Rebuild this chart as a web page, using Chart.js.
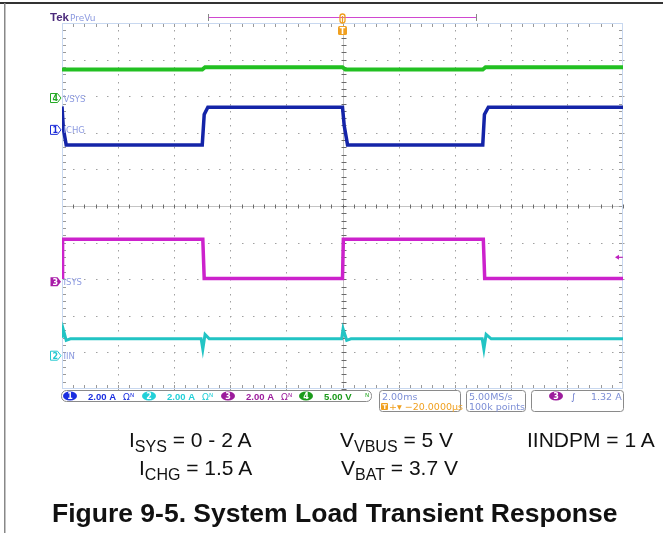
<!DOCTYPE html>
<html><head><meta charset="utf-8">
<script src="https://cdn.jsdelivr.net/npm/chart.js@4"></script>
<style>
body{margin:0;background:#fff}
#wrap{position:relative;width:663px;height:533px;overflow:hidden}
canvas{position:absolute;left:0;top:0}
.cap{position:absolute;font:21px "Liberation Sans",Arial,sans-serif;line-height:21px;color:#111;white-space:nowrap}
.cap span{font-size:16px;position:relative;top:5px}
#title{position:absolute;left:52px;top:500px;font:bold 26.5px "Liberation Sans",Arial,sans-serif;line-height:27px;color:#111;white-space:nowrap}
</style></head><body>
<div id="wrap">
  <canvas id="c" width="663" height="533"></canvas>
  <div class="cap" style="left:129px;top:429px">I<span>SYS</span> = 0 - 2 A</div>
  <div class="cap" style="left:340px;top:429px">V<span>VBUS</span> = 5 V</div>
  <div class="cap" style="left:527px;top:429px">IINDPM = 1 A</div>
  <div class="cap" style="left:139px;top:457px">I<span>CHG</span> = 1.5 A</div>
  <div class="cap" style="left:341px;top:457px">V<span>BAT</span> = 3.7 V</div>
  <div id="title">Figure 9-5. System Load Transient Response</div>
</div>
<script>
// Scope capture: time in ms (2.00 ms/div), values in screen divisions (0 = centre line)
const vsysT = [-10, -5.0, -4.9, 0, 0.1, 5.0, 5.1, 10];
const vsysV = [3.73, 3.73, 3.79, 3.79, 3.73, 3.73, 3.79, 3.79];
const ichgT = [-10, -9.95, -9.85, -5.0, -4.93, -4.8, 0, 0.06, 0.18, 5.0, 5.06, 5.2, 10];
const ichgV = [2.72, 2.1, 1.67, 1.67, 2.5, 2.70, 2.70, 2.2, 1.67, 1.67, 2.5, 2.70, 2.70];
const isysT = [-10, -9.98, -4.98, -4.93, 0, 0.03, 5.02, 5.07, 10];
const isysV = [-1.95, -0.91, -0.91, -1.98, -1.98, -0.91, -0.91, -1.98, -1.98];
const iinT = [-10, -9.96, -9.85, -9.7, -5.04, -4.98, -4.9, -4.75, -0.03, 0.02, 0.15, 0.3, 4.98, 5.04, 5.12, 5.3, 10];
const iinV = [-3.6, -3.36, -3.67, -3.63, -3.63, -3.91, -3.51, -3.63, -3.63, -3.36, -3.67, -3.63, -3.63, -3.91, -3.51, -3.63, -3.63];

// channel ground markers (divisions) and labels
const chanNames = ['VSYS', 'ICHG', 'ISYS', 'IIN'];
const chanNums = ['4', '1', '3', '2'];
const chanOffsets = [2.95, 2.08, -2.07, -4.09];
const chanColors = ['#22a822', '#1a2ad8', '#a81ca8', '#22c8d0'];
const chanFilled = [false, false, true, false];

// bottom readout
const scaleNums = ['1', '2', '3', '4'];
const scaleText = ['2.00 A', '2.00 A', '2.00 A', '5.00 V'];
const scaleColors = ['#1a2ee0', '#22d0d8', '#9c1c9c', '#1a9a1a'];
const trigLevel = 1.32; // A, ch3 -> shown at marker
const trigLevelDiv = -1.4;

function pts(t, v){ return t.map((x, i) => ({x, y: v[i]})) }

const ST = '#7d8fd6';
function rrect(ctx, x, y, w, h, r){
  ctx.beginPath();
  ctx.moveTo(x+r, y); ctx.lineTo(x+w-r, y); ctx.arcTo(x+w, y, x+w, y+r, r);
  ctx.lineTo(x+w, y+h-r); ctx.arcTo(x+w, y+h, x+w-r, y+h, r);
  ctx.lineTo(x+r, y+h); ctx.arcTo(x, y+h, x, y+h-r, r);
  ctx.lineTo(x, y+r); ctx.arcTo(x, y, x+r, y, r); ctx.closePath();
}
function pill(ctx, cx, cy, txt, col){
  ctx.fillStyle = col;
  ctx.beginPath(); ctx.ellipse(cx, cy, 7, 4.6, 0, 0, Math.PI*2); ctx.fill();
  ctx.fillStyle = '#fff'; ctx.font = 'bold 8px "DejaVu Sans"'; ctx.textAlign = 'center';
  ctx.fillText(txt, cx, cy+3); ctx.textAlign = 'left';
}

const graticule = {
  id: 'graticule',
  beforeDatasetsDraw(chart){
    const {ctx, chartArea: a, scales: {x, y}} = chart;
    ctx.save();
    // page frame
    ctx.fillStyle = '#333'; ctx.fillRect(0, 2, 663, 2);
    ctx.fillStyle = '#888'; ctx.fillRect(4, 3, 1.5, 530);
    // dotted graticule
    ctx.fillStyle = '#a0a0a0';
    for(let i = -8; i <= 8; i += 2){
      if(i === 0) continue;
      const px = Math.round(x.getPixelForValue(i));
      for(let k = 0; k <= 50; k++){ ctx.fillRect(px, Math.round(y.getPixelForValue(-5 + k*0.2)), 1, 1.5); }
    }
    for(let j = -4; j <= 4; j++){
      if(j === 0) continue;
      const py = Math.round(y.getPixelForValue(j));
      for(let k = 0; k <= 50; k++){ ctx.fillRect(Math.round(x.getPixelForValue(-10 + k*0.4)), py, 1.5, 1); }
    }
    // centre cross
    const cx = Math.round(x.getPixelForValue(0)) + 0.5, cy = Math.round(y.getPixelForValue(0)) + 0.5;
    ctx.strokeStyle = '#c4c4c4'; ctx.lineWidth = 1;
    ctx.beginPath(); ctx.moveTo(a.left, cy); ctx.lineTo(a.right, cy); ctx.moveTo(cx, a.top); ctx.lineTo(cx, a.bottom); ctx.stroke();
    ctx.strokeStyle = '#6a6a6a';
    ctx.beginPath();
    for(let k = 0; k <= 50; k++){
      const px = Math.round(x.getPixelForValue(-10 + k*0.4)) + 0.5;
      ctx.moveTo(px, cy-2); ctx.lineTo(px, cy+2);
      const py = Math.round(y.getPixelForValue(-5 + k*0.2)) + 0.5;
      ctx.moveTo(cx-2, py); ctx.lineTo(cx+3, py);
    }
    ctx.stroke();
    // edges with inward ticks
    ctx.strokeStyle = '#c8d8f0';
    ctx.strokeRect(a.left+0.5, a.top+0.5, a.right-a.left-1, a.bottom-a.top-1);
    ctx.strokeStyle = '#9a9a9a';
    ctx.beginPath();
    for(let k = 1; k < 50; k++){
      const px = Math.round(x.getPixelForValue(-10 + k*0.4)) + 0.5;
      ctx.moveTo(px, a.top+1); ctx.lineTo(px, a.top+4);
      ctx.moveTo(px, a.bottom-1); ctx.lineTo(px, a.bottom-4);
      const py = Math.round(y.getPixelForValue(-5 + k*0.2)) + 0.5;
      ctx.moveTo(a.left+1, py); ctx.lineTo(a.left+4, py);
      ctx.moveTo(a.right-1, py); ctx.lineTo(a.right-4, py);
    }
    ctx.stroke();
    ctx.restore();
  }
};

const overlay = {
  id: 'overlay',
  afterDatasetsDraw(chart){
    const {ctx, chartArea: a, scales: {x, y}} = chart;
    ctx.save();
    // header
    ctx.font = 'bold 11.5px "Liberation Sans"'; ctx.fillStyle = '#4b2a7b';
    ctx.fillText('Tek', 50, 21);
    ctx.font = '9px "DejaVu Sans"'; ctx.fillStyle = '#8c9ae0';
    ctx.fillText('PreVu', 70, 21);
    // record window bar
    ctx.strokeStyle = '#d048d0'; ctx.lineWidth = 1;
    ctx.beginPath(); ctx.moveTo(208, 17.5); ctx.lineTo(476, 17.5); ctx.stroke();
    ctx.strokeStyle = '#888';
    ctx.beginPath(); ctx.moveTo(208.5, 14); ctx.lineTo(208.5, 21); ctx.moveTo(476.5, 14); ctx.lineTo(476.5, 21); ctx.stroke();
    // trigger position marker
    const tx = x.getPixelForValue(0);
    ctx.strokeStyle = '#f0a020'; ctx.lineWidth = 1.3;
    rrect(ctx, tx-2.5, 14, 5, 9, 2.5); ctx.stroke();
    ctx.beginPath(); ctx.moveTo(tx, 16); ctx.lineTo(tx, 23); ctx.stroke();
    ctx.fillStyle = '#f0a020'; rrect(ctx, tx-4.5, 26, 9, 9, 1.5); ctx.fill();
    ctx.fillStyle = '#fff'; ctx.font = 'bold 8px "DejaVu Sans"'; ctx.textAlign = 'center';
    ctx.fillText('T', tx, 34); ctx.textAlign = 'left';
    // trigger level arrow
    const ly = y.getPixelForValue(trigLevelDiv);
    ctx.strokeStyle = '#c020c0'; ctx.fillStyle = '#c020c0'; ctx.lineWidth = 1;
    ctx.beginPath(); ctx.moveTo(618, ly); ctx.lineTo(623, ly); ctx.stroke();
    ctx.beginPath(); ctx.moveTo(615, ly); ctx.lineTo(619, ly-2.5); ctx.lineTo(619, ly+2.5); ctx.closePath(); ctx.fill();
    // channel ground markers
    chanNames.forEach((n, i) => {
      const cy = y.getPixelForValue(chanOffsets[i]);
      ctx.beginPath();
      ctx.moveTo(50.5, cy-4.5); ctx.lineTo(57.5, cy-4.5); ctx.lineTo(61, cy); ctx.lineTo(57.5, cy+4.5); ctx.lineTo(50.5, cy+4.5); ctx.closePath();
      ctx.font = 'bold 8px "DejaVu Sans"';
      if(chanFilled[i]){ ctx.fillStyle = chanColors[i]; ctx.fill(); ctx.fillStyle = '#fff'; }
      else { ctx.strokeStyle = chanColors[i]; ctx.lineWidth = 1; ctx.stroke(); ctx.fillStyle = chanColors[i]; }
      ctx.fillText(chanNums[i], 52.5, cy+3);
      ctx.font = '8.5px "DejaVu Sans"'; ctx.fillStyle = '#8c9ae0';
      ctx.fillText(n, 63.5, cy+3.5);
    });
    // readout boxes
    ctx.strokeStyle = '#8a8a8a'; ctx.lineWidth = 1;
    rrect(ctx, 61.5, 390.5, 310, 11, 5); ctx.stroke();
    rrect(ctx, 379.5, 390.5, 81, 21, 3); ctx.stroke();
    rrect(ctx, 466.5, 390.5, 59, 21, 3); ctx.stroke();
    rrect(ctx, 531.5, 390.5, 92, 21, 3); ctx.stroke();
    const sx = [70, 149, 228, 306];
    sx.forEach((px, i) => {
      pill(ctx, px, 396, scaleNums[i], scaleColors[i]);
      ctx.font = 'bold 9.5px "Liberation Sans"'; ctx.fillStyle = scaleColors[i];
      ctx.fillText(scaleText[i], px+18, 399.5);
      ctx.font = '9px "DejaVu Sans"';
      if(i < 3) ctx.fillText('Ω\u1D3A', px+53, 399.5);
    });
    ctx.fillStyle = '#28a828'; ctx.font = '9px "DejaVu Sans"'; ctx.fillText('\u1D3A', 365, 399.5);
    ctx.font = '9.5px "DejaVu Sans"'; ctx.fillStyle = ST;
    ctx.fillText('2.00ms', 382, 399.5);
    ctx.fillText('5.00MS/s', 469, 399.5);
    ctx.fillText('100k points', 469, 409.5);
    ctx.fillText(trigLevel.toFixed(2) + ' A', 591, 399.5);
    ctx.fillStyle = '#f0a020'; rrect(ctx, 381, 403, 7, 7, 1); ctx.fill();
    ctx.fillStyle = '#fff'; ctx.font = 'bold 6.5px "DejaVu Sans"'; ctx.fillText('T', 382.5, 409);
    ctx.fillStyle = '#f0a020'; ctx.font = '9.5px "DejaVu Sans"';
    ctx.fillText('+\u25BE \u221220.0000\u00B5s', 389, 409.5);
    pill(ctx, 556, 396, '3', '#9c1c9c');
    ctx.fillStyle = '#5a6cc8'; ctx.font = 'italic 9px "DejaVu Sans"'; ctx.fillText('\u222B', 571, 399.5);
    ctx.restore();
  }
};

new Chart(document.getElementById('c'), {
  type: 'line',
  data: {datasets: [
    {label: 'VSYS', data: pts(vsysT, vsysV), borderColor: '#22c022', borderWidth: 4},
    {label: 'ICHG', data: pts(ichgT, ichgV), borderColor: '#1424a8', borderWidth: 3.5},
    {label: 'ISYS', data: pts(isysT, isysV), borderColor: '#cc22cc', borderWidth: 3.5},
    {label: 'IIN', data: pts(iinT, iinV), borderColor: '#22c4c4', borderWidth: 3}
  ]},
  options: {
    responsive: false, animation: false, devicePixelRatio: 1,
    layout: {padding: {left: 62, top: 23, right: 40, bottom: 144}},
    plugins: {legend: {display: false}, tooltip: {enabled: false}, title: {display: false}},
    elements: {point: {radius: 0}, line: {tension: 0}},
    scales: {
      x: {type: 'linear', min: -10, max: 10, display: false},
      y: {min: -5, max: 5, display: false}
    }
  },
  plugins: [graticule, overlay]
});
</script>
</body></html>
